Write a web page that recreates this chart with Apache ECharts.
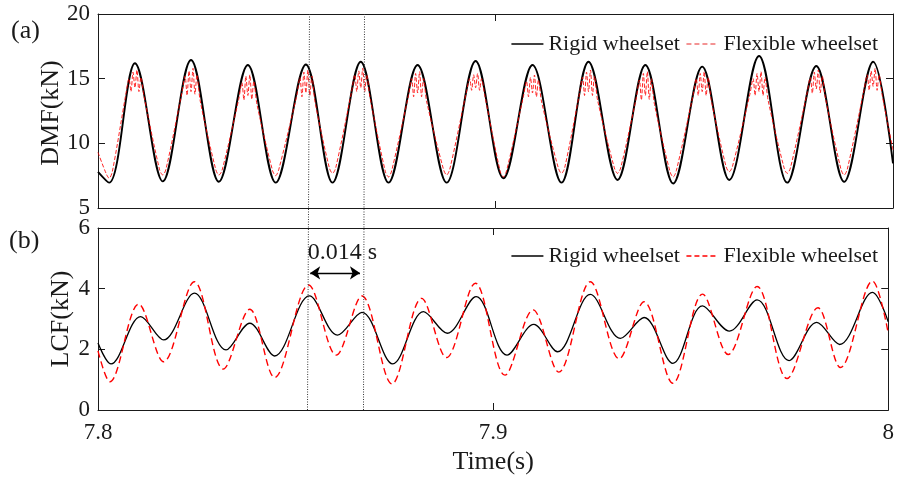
<!DOCTYPE html>
<html>
<head>
<meta charset="utf-8">
<script src="https://cdn.jsdelivr.net/npm/echarts@6/dist/echarts.min.js"></script>
<style>
  html, body { margin: 0; padding: 0; background: #fff; }
  #chart { width: 897px; height: 480px; }
</style>
</head>
<body>
<div id="chart"></div>
<script>
// Time axis (s)
const timeMin = 7.8;
const timeMax = 8.0;

// (a) Dynamic main force, kN — [time, value]
const rigidDmf = [
  [7.8000, 7.8], [7.8028, 6.96], [7.8093, 16.19], [7.8163, 7.06], [7.8234, 16.44],
  [7.8304, 7.03], [7.8377, 16.06], [7.8447, 6.96], [7.8523, 16.10], [7.8590, 6.96],
  [7.8661, 16.31], [7.8731, 6.96], [7.8804, 16.06], [7.8877, 6.96], [7.8950, 16.37],
  [7.9020, 7.30], [7.9093, 16.06], [7.9166, 6.96], [7.9234, 16.31], [7.9307, 7.17],
  [7.9377, 16.06], [7.9447, 6.90], [7.9520, 15.93], [7.9588, 7.17], [7.9663, 16.75],
  [7.9734, 6.96], [7.9807, 15.98], [7.9877, 7.03], [7.9950, 16.31], [8.0000, 8.45]
];

const flexibleDmf = [
  [7.8000, 9.3],
  [7.8020, 7.7], [7.8028, 7.3], [7.8036, 7.8],
  [7.8070, 13.8], [7.8078, 15.0], [7.8083, 14.0], [7.8088, 15.5], [7.8093, 14.3],
  [7.8098, 15.67], [7.8103, 14.0], [7.8108, 15.1], [7.8116, 13.6],
  [7.8155, 7.95], [7.8163, 7.55], [7.8171, 8.0],
  [7.8211, 13.9], [7.8219, 15.2], [7.8224, 13.7], [7.8229, 15.6], [7.8234, 14.0],
  [7.8239, 15.8], [7.8244, 13.8], [7.8249, 15.3], [7.8257, 13.3],
  [7.8296, 8.0], [7.8304, 7.55], [7.8312, 7.9],
  [7.8354, 13.4], [7.8362, 14.7], [7.8367, 13.35], [7.8372, 15.2], [7.8377, 13.7],
  [7.8382, 15.3], [7.8387, 13.4], [7.8392, 14.8], [7.8400, 13.0],
  [7.8439, 7.9], [7.8447, 7.5], [7.8455, 8.0],
  [7.8500, 13.7], [7.8508, 15.1], [7.8513, 13.6], [7.8518, 15.5], [7.8523, 13.9],
  [7.8528, 15.67], [7.8533, 13.7], [7.8538, 15.2], [7.8546, 13.2],
  [7.8582, 8.1], [7.8590, 7.68], [7.8598, 8.1],
  [7.8638, 14.0], [7.8646, 15.3], [7.8651, 14.0], [7.8656, 15.6], [7.8661, 14.3],
  [7.8666, 15.8], [7.8671, 14.0], [7.8676, 15.3], [7.8684, 13.6],
  [7.8723, 7.8], [7.8731, 7.4], [7.8739, 7.9],
  [7.8781, 13.7], [7.8789, 15.0], [7.8794, 13.6], [7.8799, 15.4], [7.8804, 13.9],
  [7.8809, 15.54], [7.8814, 13.6], [7.8819, 15.0], [7.8827, 13.2],
  [7.8869, 8.0], [7.8877, 7.55], [7.8885, 8.0],
  [7.8927, 14.0], [7.8935, 15.0], [7.8940, 14.1], [7.8945, 15.3], [7.8950, 14.3],
  [7.8955, 15.4], [7.8960, 14.1], [7.8965, 15.0], [7.8973, 13.7],
  [7.9012, 7.8], [7.9020, 7.4], [7.9028, 7.9],
  [7.9070, 13.6], [7.9078, 14.8], [7.9083, 13.6], [7.9088, 15.1], [7.9093, 13.9],
  [7.9098, 15.28], [7.9103, 13.6], [7.9108, 14.9], [7.9116, 13.2],
  [7.9158, 8.1], [7.9166, 7.68], [7.9174, 8.1],
  [7.9211, 13.8], [7.9219, 15.1], [7.9224, 13.7], [7.9229, 15.5], [7.9234, 14.0],
  [7.9239, 15.67], [7.9244, 13.7], [7.9249, 15.2], [7.9257, 13.3],
  [7.9299, 8.1], [7.9307, 7.68], [7.9315, 8.1],
  [7.9354, 13.5], [7.9362, 14.9], [7.9367, 13.35], [7.9372, 15.4], [7.9377, 13.7],
  [7.9382, 15.54], [7.9387, 13.4], [7.9392, 15.0], [7.9400, 13.0],
  [7.9439, 7.8], [7.9447, 7.4], [7.9455, 7.9],
  [7.9497, 13.7], [7.9505, 15.0], [7.9510, 13.7], [7.9515, 15.4], [7.9520, 14.0],
  [7.9525, 15.54], [7.9530, 13.7], [7.9535, 15.1], [7.9543, 13.3],
  [7.9580, 8.2], [7.9588, 7.8], [7.9596, 8.2],
  [7.9640, 13.8], [7.9648, 15.0], [7.9653, 13.7], [7.9658, 15.4], [7.9663, 14.0],
  [7.9668, 15.54], [7.9673, 13.7], [7.9678, 15.1], [7.9686, 13.3],
  [7.9726, 8.1], [7.9734, 7.68], [7.9742, 8.1],
  [7.9784, 13.9], [7.9792, 15.1], [7.9797, 13.87], [7.9802, 15.5], [7.9807, 14.2],
  [7.9812, 15.67], [7.9817, 13.9], [7.9822, 15.2], [7.9830, 13.5],
  [7.9869, 8.0], [7.9877, 7.55], [7.9885, 8.0],
  [7.9927, 14.1], [7.9935, 15.3], [7.9940, 14.1], [7.9945, 15.6], [7.9950, 14.4],
  [7.9955, 15.8], [7.9960, 14.1], [7.9965, 15.3], [7.9973, 13.7],
  [8.0000, 9.5]
];

// (b) Lateral creep force, kN — [time, value]
const rigidLcf = [
  [7.8000, 2.21], [7.8033, 1.52], [7.8108, 3.08], [7.8166, 2.31], [7.8244, 3.85],
  [7.8324, 1.98], [7.8384, 2.86], [7.8447, 1.78], [7.8535, 3.76], [7.8606, 2.47],
  [7.8668, 3.22], [7.8746, 1.52], [7.8824, 3.24], [7.8884, 2.53], [7.8957, 3.74],
  [7.9035, 1.81], [7.9103, 2.82], [7.9163, 1.92], [7.9246, 3.81], [7.9322, 2.36],
  [7.9382, 3.05], [7.9455, 1.54], [7.9530, 3.43], [7.9598, 2.60], [7.9668, 3.63],
  [7.9749, 1.63], [7.9819, 2.89], [7.9877, 2.16], [7.9960, 3.88], [8.0000, 2.91]
];

const flexibleLcf = [
  [7.8000, 1.95], [7.8030, 0.93], [7.8103, 3.49], [7.8166, 1.59], [7.8244, 4.23],
  [7.8317, 1.35], [7.8384, 3.32], [7.8447, 1.07], [7.8533, 4.12], [7.8603, 1.81],
  [7.8668, 3.76], [7.8744, 0.86], [7.8819, 3.68], [7.8882, 1.73], [7.8955, 4.18],
  [7.9030, 1.15], [7.9101, 3.30], [7.9166, 1.25], [7.9246, 4.23], [7.9319, 1.69],
  [7.9382, 3.57], [7.9455, 0.88], [7.9530, 3.82], [7.9595, 1.83], [7.9668, 4.07],
  [7.9744, 1.04], [7.9822, 3.37], [7.9879, 1.40], [7.9960, 4.25], [8.0000, 2.53]
];

// Phase-lag markers (s)
const lagStart = 7.853;
const lagEnd = 7.867;
const lagLabel = '0.014 s';
const lagArrowLevel = 4.52;

const seriesNames = ['Rigid wheelset', 'Flexible wheelset'];
const panelLabels = ['(a)', '(b)'];
const yNames = ['DMF(kN)', 'LCF(kN)'];
const xName = 'Time(s)';

const FONT = '"Liberation Serif", "Times New Roman", serif';
const INK = '#1a1a1a';

function frameX(gridIndex, position, withLabels) {
  return {
    type: 'value', gridIndex, position,
    min: timeMin, max: timeMax, interval: 0.1,
    axisLine: { show: true, onZero: false, lineStyle: { color: INK, width: 1 } },
    axisTick: { show: true, inside: true, length: 7, lineStyle: { color: INK } },
    axisLabel: {
      show: withLabels, color: INK, fontFamily: FONT, fontSize: 23, margin: 11,
      formatter: v => String(Math.round(v * 10) / 10)
    },
    splitLine: { show: false }
  };
}

function frameY(gridIndex, position, min, max, interval, withLabels) {
  return {
    type: 'value', gridIndex, position, min, max, interval,
    axisLine: { show: true, lineStyle: { color: INK, width: 1 } },
    axisTick: { show: true, inside: true, length: 7, lineStyle: { color: INK } },
    axisLabel: { show: withLabels, color: INK, fontFamily: FONT, fontSize: 23, margin: 8 },
    splitLine: { show: false }
  };
}

const chart = echarts.init(document.getElementById('chart'), null, { renderer: 'canvas' });

const legendText = { color: INK, fontFamily: FONT, fontSize: 22 };
function legendFor(top, flexColor) {
  return {
    top, right: 14, itemWidth: 32, itemHeight: 14, itemGap: 6,
    textStyle: legendText,
    data: [
      { name: seriesNames[0], itemStyle: { opacity: 0 }, lineStyle: { color: '#000', width: 1.3, type: 'solid' } },
      { name: seriesNames[1], itemStyle: { opacity: 0 }, lineStyle: { color: flexColor, width: 1.3, type: [5, 3] } }
    ]
  };
}

const option = {
  animation: false,
  backgroundColor: '#fff',
  grid: [
    { left: 98, right: 4, top: 14, height: 194 },
    { left: 98, right: 4, top: 228, height: 182 }
  ],
  legend: [legendFor(28, '#f07070'), legendFor(240, '#ff0000')],
  xAxis: [
    frameX(0, 'bottom', false),
    frameX(0, 'top', false),
    frameX(1, 'bottom', true),
    frameX(1, 'top', false)
  ],
  yAxis: [
    frameY(0, 'left', 5, 20, 5, true),
    frameY(0, 'right', 5, 20, 5, false),
    frameY(1, 'left', 0, 6, 2, true),
    frameY(1, 'right', 0, 6, 2, false)
  ],
  series: [
    {
      name: seriesNames[0], type: 'line', xAxisIndex: 0, yAxisIndex: 0,
      data: rigidDmf, symbol: 'none', smooth: 0.35, z: 3,
      itemStyle: { color: '#000' },
      lineStyle: { color: '#000', width: 1.9 }
    },
    {
      name: seriesNames[1], type: 'line', xAxisIndex: 0, yAxisIndex: 0,
      data: flexibleDmf, symbol: 'none', smooth: 0.3, z: 4,
      itemStyle: { color: '#ff0000' },
      lineStyle: { color: 'rgba(255,0,0,0.85)', width: 1, type: [4, 2] }
    },
    {
      name: seriesNames[0], type: 'line', xAxisIndex: 2, yAxisIndex: 2,
      data: rigidLcf, symbol: 'none', smooth: 0.35, z: 3,
      itemStyle: { color: '#000' },
      lineStyle: { color: '#000', width: 1.3 }
    },
    {
      name: seriesNames[1], type: 'line', xAxisIndex: 2, yAxisIndex: 2,
      data: flexibleLcf, symbol: 'none', smooth: 0.35, z: 4,
      itemStyle: { color: '#ff0000' },
      lineStyle: { color: '#ff0000', width: 1.4, type: [7, 4] },
      markLine: {
        silent: true, symbol: ['arrow', 'arrow'], symbolSize: 10,
        lineStyle: { color: '#000', width: 1.3, type: 'solid' },
        label: { show: false },
        data: [[{ coord: [lagStart + 0.0007, lagArrowLevel] }, { coord: [lagEnd - 0.0007, lagArrowLevel] }]]
      }
    }
  ]
};

chart.setOption(option);

// Dotted guide lines through both panels, lag text, axis titles and panel tags
const topA = chart.convertToPixel({ xAxisIndex: 0, yAxisIndex: 0 }, [lagStart, 20]);
const botA = chart.convertToPixel({ xAxisIndex: 2, yAxisIndex: 2 }, [lagStart, 0]);
const topB = chart.convertToPixel({ xAxisIndex: 0, yAxisIndex: 0 }, [lagEnd, 20]);
const botB = chart.convertToPixel({ xAxisIndex: 2, yAxisIndex: 2 }, [lagEnd, 0]);
const arrowY = chart.convertToPixel({ xAxisIndex: 2, yAxisIndex: 2 }, [lagStart, lagArrowLevel])[1];

const gridTop = chart.getModel().getComponent('grid', 0).coordinateSystem.getRect();
const gridBot = chart.getModel().getComponent('grid', 1).coordinateSystem.getRect();

const guide = (p, q) => ({
  type: 'line', silent: true, z: 10,
  shape: { x1: Math.round(p[0]) + 0.5, y1: p[1], x2: Math.round(q[0]) + 0.5, y2: q[1] },
  style: { stroke: '#333', lineWidth: 1, lineDash: [1, 1.5] }
});

const serifText = (text, size, x, y, rotation, align) => ({
  type: 'text', silent: true, x, y, rotation: rotation || 0, z: 20,
  style: {
    text, fill: INK, font: size + 'px ' + FONT,
    align: align || 'center', verticalAlign: 'middle'
  }
});

chart.setOption({
  graphic: [
    guide(topA, botA),
    guide(topB, botB),
    serifText(lagLabel, 24, (topA[0] + topB[0]) / 2 + 6, arrowY - 20),
    serifText(yNames[0], 26, 51, gridTop.y + gridTop.height / 2 + 2, Math.PI / 2),
    serifText(yNames[1], 26, 61, gridBot.y + gridBot.height / 2, Math.PI / 2),
    serifText(xName, 26, gridBot.x + gridBot.width / 2, 462),
    serifText(panelLabels[0], 26, 11, 31, 0, 'left'),
    serifText(panelLabels[1], 26, 9, 241, 0, 'left')
  ]
});
</script>
</body>
</html>
